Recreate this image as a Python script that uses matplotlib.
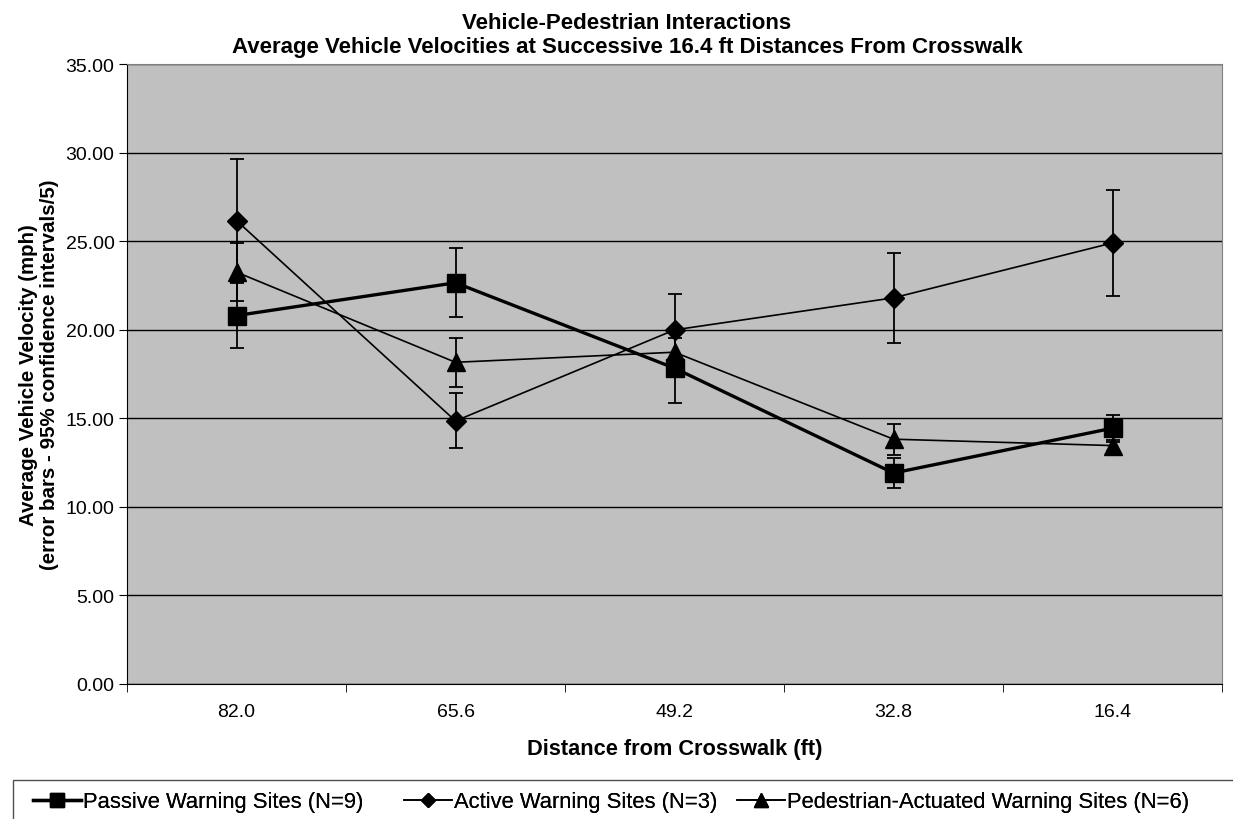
import matplotlib
matplotlib.use("Agg")
import matplotlib.pyplot as plt
from matplotlib.lines import Line2D
from matplotlib.patches import Rectangle
import numpy as np

plt.rcParams['font.family'] = ['Liberation Sans', 'DejaVu Sans']

categories = ["82.0", "65.6", "49.2", "32.8", "16.4"]
passive = [20.80, 22.65, 17.83, 11.91, 14.44]
passive_err = [1.85, 1.95, 1.96, 0.83, 0.77]
active = [26.16, 14.85, 19.99, 21.80, 24.90]
active_err = [3.48, 1.55, 2.03, 2.55, 3.00]
ped = [23.25, 18.16, 18.73, 13.82, 13.46]
ped_err = [1.65, 1.40, 0.80, 0.88, 0.30]

series_labels = ["Passive Warning Sites (N=9)", "Active Warning Sites (N=3)",
                 "Pedestrian-Actuated Warning Sites (N=6)"]

W, H = 1233, 820
fig = plt.figure(figsize=(W / 100, H / 100), dpi=100)
ax = fig.add_axes([127 / W, 1 - 685 / H, (1222 - 127) / W, (685 - 65) / H])
ax.set_facecolor('#C0C0C0')

x = np.arange(len(categories))

ekw = dict(ecolor='black', elinewidth=1.3, capsize=5, capthick=1.3)
ax.errorbar(x, passive, yerr=passive_err, color='black', lw=2.4, marker='s',
            markersize=13, zorder=5, **ekw)
ax.errorbar(x, active, yerr=active_err, color='black', lw=1.2, marker='D',
            markersize=10, zorder=4, **ekw)
ax.errorbar(x, ped, yerr=ped_err, color='black', lw=1.2, marker='^',
            markersize=13, zorder=3, **ekw)

ax.set_xlim(-0.5, len(categories) - 0.5)
ax.set_ylim(0, 35)
yt = np.arange(0, 35.01, 5)
ax.set_yticks(yt)
ax.set_yticklabels([f"{v:.2f}" for v in yt], fontsize=14)
ax.set_xticks(x)
ax.set_xticklabels(categories, fontsize=14)
ax.set_xticks(np.arange(-0.5, len(categories), 1.0), minor=True)
ax.tick_params(axis='x', which='major', length=0, pad=14)
ax.tick_params(axis='x', which='minor', length=6, direction='out', color='black')
ax.tick_params(axis='y', length=6, direction='out', pad=3)
ax.yaxis.grid(True, color='black', lw=1.0)
ax.set_axisbelow(True)
for s in ['top', 'right']:
    ax.spines[s].set_color('#808080')
for s in ['left', 'bottom']:
    ax.spines[s].set_color('black')

ax.set_xlabel("Distance from Crosswalk (ft)", fontsize=15.7, fontweight='bold', labelpad=13)
ax.set_ylabel("Average Vehicle Velocity (mph)\n(error bars - 95% confidence intervals/5)",
              fontsize=14.8, fontweight='bold', labelpad=5, linespacing=1.1)
fig.text(627 / W, 1 - 53 / H,
         "Vehicle-Pedestrian Interactions\nAverage Vehicle Velocities at Successive 16.4 ft Distances From Crosswalk",
         fontsize=16, fontweight='bold', ha='center', va='baseline', linespacing=1.2,
         multialignment='center')

# legend frame
fig.patches.append(Rectangle((13 / W, -0.05), (W + 10 - 13) / W, (H - 781) / H + 0.05,
                             transform=fig.transFigure, facecolor='white',
                             edgecolor='#505050', lw=1.0, clip_on=False, zorder=0))

handles = [Line2D([], [], color='black', lw=2.4, marker='s', markersize=10),
           Line2D([], [], color='black', lw=1.2, marker='D', markersize=7),
           Line2D([], [], color='black', lw=1.2, marker='^', markersize=10)]
starts = [33, 404, 737]
for h, lab, sx in zip(handles, series_labels, starts):
    lg = fig.legend([h], [lab], loc='center left',
                    bbox_to_anchor=(sx / W, 1 - 803 / H), frameon=False,
                    fontsize=15.8, handlelength=2.2, handletextpad=0.1,
                    borderpad=0, borderaxespad=0)
    fig.add_artist(lg)

fig.savefig("out.png", dpi=100, facecolor='white')
